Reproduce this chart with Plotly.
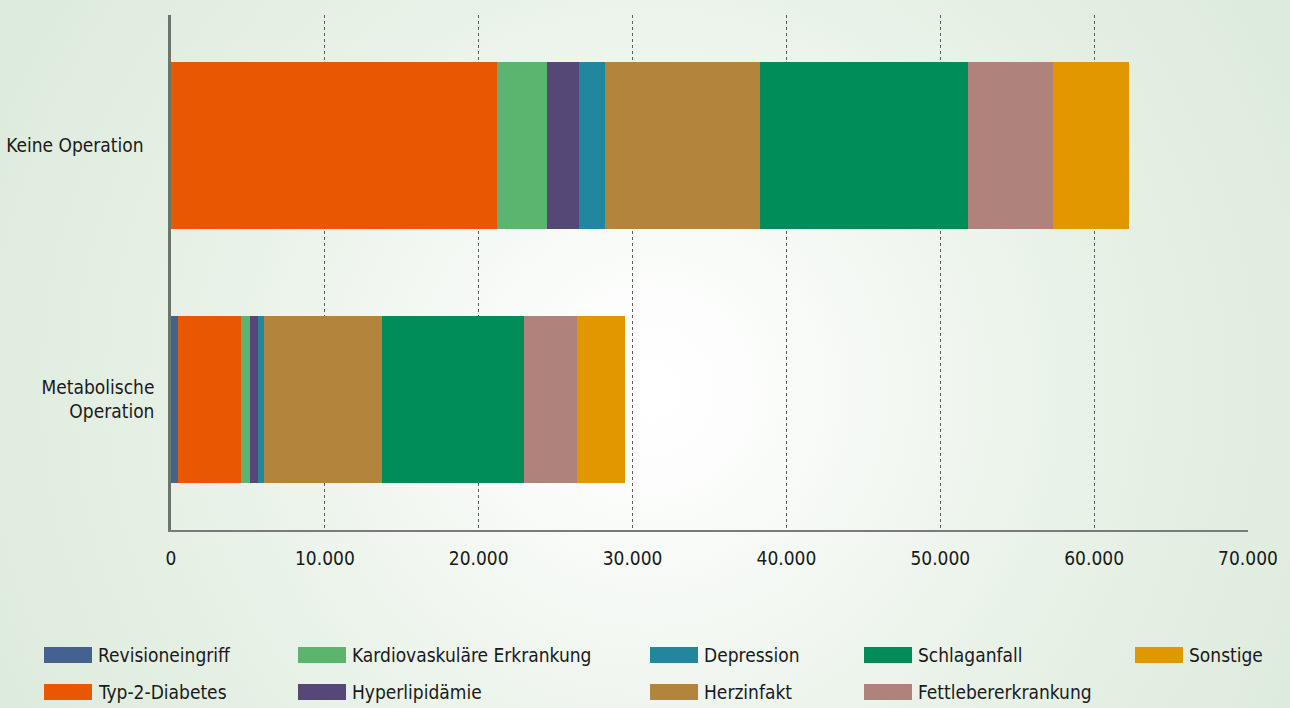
import base64
import plotly.graph_objects as go

categories = ["Keine Operation", "Metabolische Operation"]
category_labels = ["Keine Operation\u00a0\u00a0", "Metabolische<br>Operation"]

series_names = ["Revisioneingriff", "Typ-2-Diabetes", "Kardiovaskuläre Erkrankung",
                "Hyperlipidämie", "Depression", "Herzinfakt", "Schlaganfall",
                "Fettlebererkrankung", "Sonstige"]
revisioneingriff = [0, 430]
typ2_diabetes = [21200, 4130]
kardiovaskulaer = [3240, 590]
hyperlipidaemie = [2080, 520]
depression = [1690, 390]
herzinfakt = [10070, 7660]
schlaganfall = [13500, 9200]
fettleber = [5520, 3460]
sonstige = [4940, 3120]
series_values = [revisioneingriff, typ2_diabetes, kardiovaskulaer, hyperlipidaemie,
                 depression, herzinfakt, schlaganfall, fettleber, sonstige]
colors = ["#44618f", "#e95703", "#5cb56e", "#554877", "#21869e",
          "#b3843c", "#008d5a", "#af827c", "#e19700"]

tick_vals = [0, 10000, 20000, 30000, 40000, 50000, 60000, 70000]

# layout geometry (pixels)
W, H = 1290, 708
ML, MR, MT, MB = 171, 42, 15, 178
PW, PH = W - ML - MR, H - MT - MB

FONT = "Liberation Sans Narrow, DejaVu Sans Condensed, Arial Narrow, sans-serif"
FS = 19

fig = go.Figure()
for name, vals, col in zip(series_names, series_values, colors):
    fig.add_trace(go.Bar(
        y=categories, x=vals, name=name, orientation="h",
        marker=dict(color=col, line=dict(width=0)),
        showlegend=False,
    ))

def px_x(p):
    return (p - ML) / PW

def px_y(p):
    return (H - MB - p) / PH

# manual legend (column-major, 2 rows)
legend_cols_px = [44, 298, 650, 864, 1135]
legend_rows_px = [655, 692]
shapes = []
annotations = []
for i, (name, col) in enumerate(zip(series_names, colors)):
    c, r = i // 2, i % 2
    x0 = legend_cols_px[c]
    yc = legend_rows_px[r]
    shapes.append(dict(type="rect", xref="paper", yref="paper",
                       x0=px_x(x0), x1=px_x(x0 + 48),
                       y0=px_y(yc + 8), y1=px_y(yc - 8),
                       fillcolor=col, line=dict(width=0), layer="above"))
    annotations.append(dict(xref="paper", yref="paper", x=px_x(x0 + 52), y=px_y(yc),
                            xanchor="left", yanchor="middle", text=name,
                            showarrow=False, font=dict(size=FS, color="#1a1a1a", family=FONT)))

svg = f'''<svg xmlns="http://www.w3.org/2000/svg" width="{W}" height="{H}" viewBox="0 0 {W} {H}" preserveAspectRatio="none">
<defs><radialGradient id="g" gradientUnits="userSpaceOnUse" cx="650" cy="390" r="760">
<stop offset="0" stop-color="#ffffff"/>
<stop offset="0.12" stop-color="#fcfdfc"/>
<stop offset="0.55" stop-color="#e9f2e8"/>
<stop offset="1" stop-color="#dbeadb"/>
</radialGradient></defs>
<rect width="{W}" height="{H}" fill="url(#g)"/></svg>'''
bg_src = "data:image/svg+xml;base64," + base64.b64encode(svg.encode()).decode()

fig.update_layout(
    barmode="stack",
    bargap=0.343,
    width=W, height=H,
    margin=dict(l=ML, r=MR, t=MT, b=MB, pad=0, autoexpand=False),
    paper_bgcolor="#e8f1e6",
    plot_bgcolor="rgba(0,0,0,0)",
    separators=",.",
    font=dict(family=FONT, size=FS, color="#1a1a1a"),
    shapes=shapes,
    annotations=annotations,
    images=[dict(source=bg_src, xref="paper", yref="paper",
                 x=px_x(0), y=px_y(0), sizex=W / PW, sizey=H / PH,
                 xanchor="left", yanchor="top", sizing="stretch", layer="below")],
)
fig.update_xaxes(
    range=[0, 70000], tickvals=tick_vals, tickformat=",d", automargin=False,
    showgrid=True, gridcolor="#5e5e5e", gridwidth=1, griddash="dot",
    zeroline=False, showline=True, linecolor="#7a7a7a", linewidth=1.5,
    ticks="outside", ticklen=10, tickcolor="rgba(0,0,0,0)",
    tickfont=dict(size=FS, family=FONT, color="#1a1a1a"),
)
fig.update_yaxes(
    categoryorder="array", categoryarray=categories[::-1], automargin=False,
    range=[-0.514, 1.514],
    tickvals=categories, ticktext=category_labels,
    showgrid=False, zeroline=False, showline=True, linecolor="#6b756b", linewidth=2.5,
    ticks="outside", ticklen=10, tickcolor="rgba(0,0,0,0)",
    tickfont=dict(size=FS, family=FONT, color="#1a1a1a"),
)

fig.write_html("out.html")
